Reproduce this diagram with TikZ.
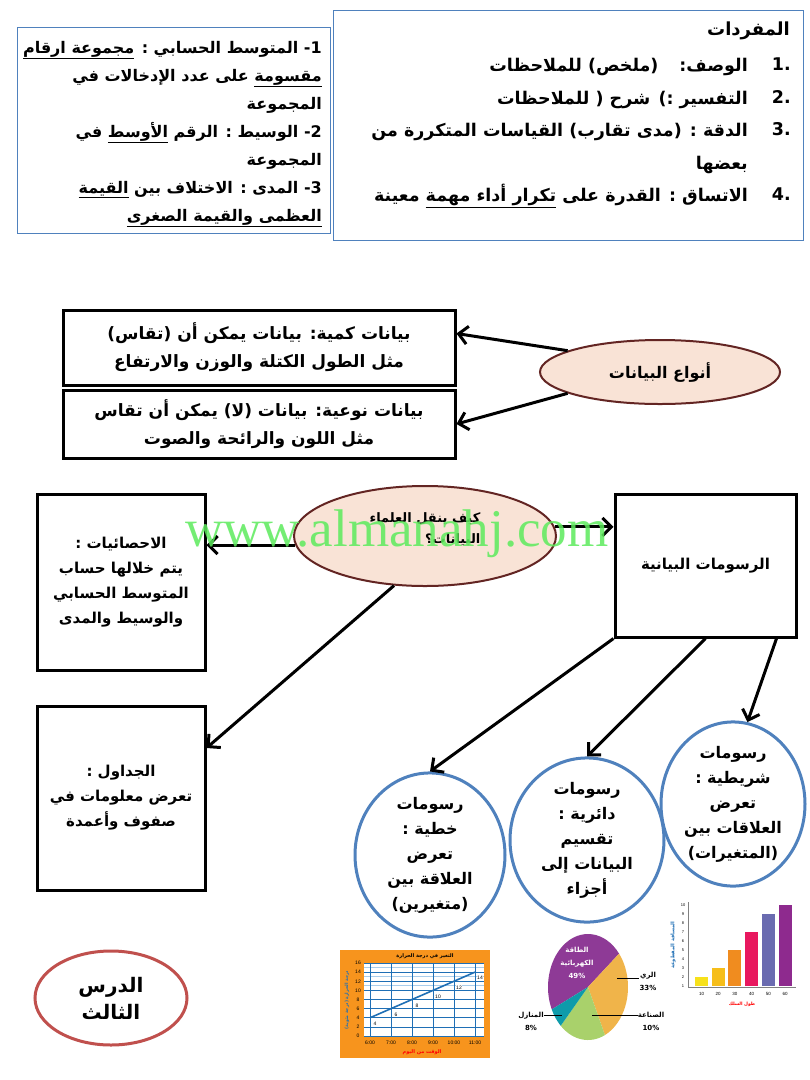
\documentclass[tikz,border=0pt]{standalone}
\usepackage{fontspec}
\usepackage{tikz}
\usetikzlibrary{shapes.geometric, arrows.meta, positioning, calc}
\setmainfont{Liberation Sans}
\newfontfamily\arabicfont[Script=Arabic]{DejaVu Sans}
\newfontfamily\wmfont{Liberation Serif}
\TeXXeTstate=1
\definecolor{infoblue}{HTML}{4F81BD}
\definecolor{bubblefill}{HTML}{F9E3D6}
\definecolor{bubbleedge}{HTML}{632523}
\definecolor{lessonred}{HTML}{C0504D}
\definecolor{wmgreen}{HTML}{5CEB5C}
\definecolor{chartorange}{HTML}{F7941D}
\definecolor{gridblue}{HTML}{1F6FB5}
\definecolor{gridlight}{HTML}{A9CDEB}
\definecolor{piepurple}{HTML}{8E3A96}
\definecolor{pieorange}{HTML}{F0B44A}
\definecolor{piegreen}{HTML}{A9D16B}
\definecolor{pieteal}{HTML}{0E9BAA}
\definecolor{baryellow}{HTML}{F7E11B}
\definecolor{bargold}{HTML}{F6BE1A}
\definecolor{barorange}{HTML}{F08C1F}
\definecolor{barpink}{HTML}{E8185F}
\definecolor{barslate}{HTML}{6A6BB0}
\definecolor{barpurple}{HTML}{8E2A8E}
\newcommand\arline[1]{\beginR#1\endR}
\newcommand\arul[1]{\underline{\beginR#1\endR}}

\begin{document}
\begin{tikzpicture}[x=1pt, y=-1pt,
    databox/.style={draw=black, line width=3pt, rectangle, align=center, inner sep=0pt,
      font=\arabicfont\bfseries\fontsize{17}{28}\selectfont},
    bubble/.style={ellipse, draw=bubbleedge, line width=2pt, fill=bubblefill, inner sep=0pt},
    chartcircle/.style={ellipse, draw=infoblue, line width=3pt, fill=white, align=center, inner sep=0pt,
      font=\arabicfont\bfseries\fontsize{16}{25}\selectfont},
    arr/.style={draw=black, line width=3pt, -{Straight Barb[length=9pt,width=18pt]}},
    tinytext/.style={font=\fontsize{5}{5}\selectfont, inner sep=0pt},
  ]
  \useasboundingbox (0,0) rectangle (810,1080);
  \fill[white] (0,0) rectangle (810,1080);

  % definitions boxes at the top
  \draw[infoblue, line width=1pt] (17,27) rectangle (330,233);
  \draw[infoblue, line width=1pt] (333,10) rectangle (803,240);
  \node[anchor=north east, align=right, inner sep=0pt,
    font=\arabicfont\bfseries\fontsize{16}{28}\selectfont] (statstext) at (322,41) {%
    \arline{1\kern0pt- المتوسط الحسابي : \arul{مجموعة ارقام}}\\
    \arline{\arul{مقسومة} على عدد الإدخالات في}\\
    \arline{المجموعة}\\
    \arline{2\kern0pt- الوسيط : الرقم \arul{الأوسط} في}\\
    \arline{المجموعة}\\
    \arline{3\kern0pt- المدى : الاختلاف بين \arul{القيمة}}\\
    \arline{\arul{العظمى والقيمة الصغرى}}};
  \node[anchor=east, inner sep=0pt, font=\arabicfont\bfseries\fontsize{18}{32}\selectfont]
    (vocabtitle) at (790,31) {\arline{المفردات}};
  \node[anchor=north east, align=right, inner sep=0pt,
    font=\arabicfont\bfseries\fontsize{17.5}{32.5}\selectfont] (vocabtext) at (748,58) {%
    \arline{الوصف:\hspace{1.2em}(ملخص) للملاحظات}\\
    \arline{التفسير :\kern0pt) شرح ( للملاحظات}\\
    \arline{الدقة : (مدى تقارب) القياسات المتكررة من}\\
    \arline{بعضها}\\
    \arline{الاتساق : القدرة على \arul{تكرار أداء مهمة} معينة}};
  \node[anchor=north east, align=right, inner sep=0pt,
    font=\arabicfont\bfseries\fontsize{17.5}{32.5}\selectfont] (vocabnum) at (791,58) {%
    .1\\.2\\.3\\\mbox{}\\.4};

  % kinds of data
  \node[databox, minimum width=392pt, minimum height=75pt] (kammiya) at (259,347.5) {%
    \arline{بيانات كمية: بيانات يمكن أن (تقاس)}\\
    \arline{مثل الطول الكتلة والوزن والارتفاع}};
  \node[databox, minimum width=392pt, minimum height=68pt] (nawiya) at (259,424) {%
    \arline{بيانات نوعية: بيانات (لا) يمكن أن تقاس}\\
    \arline{مثل اللون والرائحة والصوت}};
  \node[bubble, minimum width=240pt, minimum height=64pt,
    font=\arabicfont\bfseries\fontsize{16}{20}\selectfont] (anwa) at (660,372) {\arline{أنواع البيانات}};
  \draw[arr] (anwa.167) -- ([yshift=14pt]kammiya.east);
  \draw[arr] (anwa.193) -- (nawiya.east);

  % how scientists communicate data
  \node[bubble, minimum width=262pt, minimum height=100pt] (kayf) at (425,536) {};
  \node[align=right, inner sep=0pt, font=\arabicfont\bfseries\fontsize{13}{21}\selectfont]
    (kayftext) at (425,529) {\arline{كيف ينقل العلماء}\\\arline{البيانات؟}};
  \node[databox, minimum width=168pt, minimum height=176pt,
    font=\arabicfont\bfseries\fontsize{15}{25}\selectfont] (ihsa) at (121,582) {%
    \arline{الاحصائيات :}\\
    \arline{يتم خلالها حساب}\\
    \arline{المتوسط الحسابي}\\
    \arline{والوسيط والمدى}};
  \node[databox, minimum width=168pt, minimum height=184pt,
    font=\arabicfont\bfseries\fontsize{15}{25}\selectfont] (jadawil) at (121,798) {%
    \arline{الجداول :}\\
    \arline{تعرض معلومات في}\\
    \arline{صفوف وأعمدة}};
  \node[databox, minimum width=181pt, minimum height=143pt,
    font=\arabicfont\bfseries\fontsize{15}{25}\selectfont] (rusumat) at (705.5,565.5) {%
    \arline{الرسومات البيانية}};
  \draw[arr] (kayf.184) -- (kayf.184 -| ihsa.east);
  \draw[arr] (kayf.4) -- (kayf.4 -| rusumat.west);
  \draw[arr] (kayf.238) -- ([yshift=50pt]jadawil.east);

  % kinds of graphs
  \node[chartcircle, minimum width=150pt, minimum height=160pt] (khatti) at (430,855) {%
    \arline{رسومات}\\\arline{خطية :}\\\arline{تعرض}\\\arline{العلاقة بين}\\\arline{(متغيرين)}};
  \node[chartcircle, minimum width=154pt, minimum height=164pt] (daira) at (587,840) {%
    \arline{رسومات}\\\arline{دائرية :}\\\arline{تقسيم}\\\arline{البيانات إلى}\\\arline{أجزاء}};
  \node[chartcircle, minimum width=144pt, minimum height=160pt] (sharit) at (733,804) {%
    \arline{رسومات}\\\arline{شريطية :}\\\arline{تعرض}\\\arline{العلاقات بين}\\\arline{(المتغيرات)}};
  \draw[arr] (rusumat.south west) -- (khatti.north);
  \draw[arr] (rusumat.south) -- (daira.north);
  \draw[arr] ([xshift=-21pt]rusumat.south east) -- (sharit.80);

  % lesson label
  \node[ellipse, draw=lessonred, line width=3pt, minimum width=152pt, minimum height=94pt,
    align=center, inner sep=0pt, font=\arabicfont\bfseries\fontsize{20}{27}\selectfont]
    (dars) at (111,998) {\arline{الدرس}\\\arline{الثالث}};

  % line graph
  \fill[chartorange] (340,950) rectangle (490,1058);
  \fill[white] (364,963) rectangle (484,1036);
  \foreach \v in {11,13,15}
    \draw[gridlight, line width=0.8pt] (364,{1036-\v*4.5625}) -- (484,{1036-\v*4.5625});
  \foreach \v in {0,2,...,16} {
    \draw[gridblue, line width=0.6pt] (364,{1036-\v*4.5625}) -- (484,{1036-\v*4.5625});
    \node[tinytext] (ytick\v) at (358,{1036-\v*4.5625}) {\v};
  }
  \foreach \t [count=\k from 0] in {6:00,7:00,8:00,9:00,10:00,11:00} {
    \draw[gridblue, line width=0.6pt] ({370+21*\k},963) -- ({370+21*\k},1036);
    \node[tinytext] (xtick\k) at ({370+21*\k},1043) {\t};
  }
  \draw[gridblue, line width=1.6pt] (370,1017.75) -- (475,972.1);
  \foreach \v [count=\k from 0] in {4,6,8,10,12,14}
    \node[tinytext, fill=white, inner sep=0.5pt] (pt\v) at ({375+21*\k},{1036-\v*4.5625+6}) {\v};
  \node[tinytext, font=\arabicfont\bfseries\fontsize{5}{5}\selectfont] (linetitle) at (425,956)
    {\arline{التغير في درجة الحرارة}};
  \node[tinytext, text=red, font=\arabicfont\bfseries\fontsize{5}{5}\selectfont] (linexlab) at (422,1052)
    {\arline{الوقت من اليوم}};
  \node[tinytext, text=gridblue, rotate=90, font=\arabicfont\bfseries\fontsize{4.5}{5}\selectfont]
    (lineylab) at (347,1000) {\arline{درجة الحرارة (درجة مئوية)}};

  % pie graph
  \coordinate (pc) at (588,987);
  \fill[piepurple] (pc) -- +(39:40pt and 53pt) arc[start angle=39, end angle=205, x radius=40pt, y radius=53pt] -- cycle;
  \fill[pieorange] (pc) -- +(39:40pt and 53pt) arc[start angle=39, end angle=-65, x radius=40pt, y radius=53pt] -- cycle;
  \fill[piegreen] (pc) -- +(-65:40pt and 53pt) arc[start angle=-65, end angle=-133, x radius=40pt, y radius=53pt] -- cycle;
  \fill[pieteal] (pc) -- +(-133:40pt and 53pt) arc[start angle=-133, end angle=-155, x radius=40pt, y radius=53pt] -- cycle;
  \node[align=center, text=white, inner sep=0pt, font=\arabicfont\bfseries\fontsize{7}{13}\selectfont]
    (piepower) at (577,963) {\arline{الطاقة}\\\arline{الكهربائية}\\49\%};
  \node[align=center, inner sep=0pt, font=\arabicfont\bfseries\fontsize{7}{13}\selectfont]
    (pieirrig) at (648,981) {\arline{الري}\\33\%};
  \node[align=center, inner sep=0pt, font=\arabicfont\bfseries\fontsize{7}{13}\selectfont]
    (pieind) at (651,1021) {\arline{الصناعة}\\10\%};
  \node[align=center, inner sep=0pt, font=\arabicfont\bfseries\fontsize{7}{13}\selectfont]
    (piehome) at (531,1021) {\arline{المنازل}\\8\%};
  \draw[black, line width=0.6pt] (617,978) -- (pieirrig.west |- 0,978);
  \draw[black, line width=0.6pt] (592,1015) -- (pieind.west |- 0,1015);
  \draw[black, line width=0.6pt] (piehome.east |- 0,1015) -- (562,1015);

  % bar graph
  \draw[gray, line width=0.6pt] (688,902) -- (688,987) -- (796,987);
  \foreach \v/\c [count=\k from 0] in {2/baryellow,3/bargold,5/barorange,7/barpink,9/barslate,10/barpurple} {
    \fill[\c] ({695+16.7*\k},986) rectangle ++(13,{-(\v-1)*9});
    \node[tinytext, font=\fontsize{4.5}{5}\selectfont] (bartick\k) at ({701.5+16.7*\k},994) {\the\numexpr(\k+1)*10\relax};
  }
  \foreach \v in {1,...,10}
    \node[tinytext, font=\fontsize{4}{4}\selectfont] (barytick\v) at (683,{986-(\v-1)*9}) {\v};
  \node[tinytext, text=red, font=\arabicfont\bfseries\fontsize{4.5}{5}\selectfont] (barxlab) at (742,1004)
    {\arline{طول السلك}};
  \node[tinytext, text=gridblue, rotate=90, font=\arabicfont\bfseries\fontsize{5}{5}\selectfont]
    (barylab) at (673,945) {\arline{المسافة المقطوعة}};

  % watermark
  \node[anchor=base west, inner sep=0pt, text=wmgreen, opacity=0.85,
    font=\wmfont\fontsize{53}{53}\selectfont] (wm) at (185,546) {www.almanahj.com};
\end{tikzpicture}
\end{document}
